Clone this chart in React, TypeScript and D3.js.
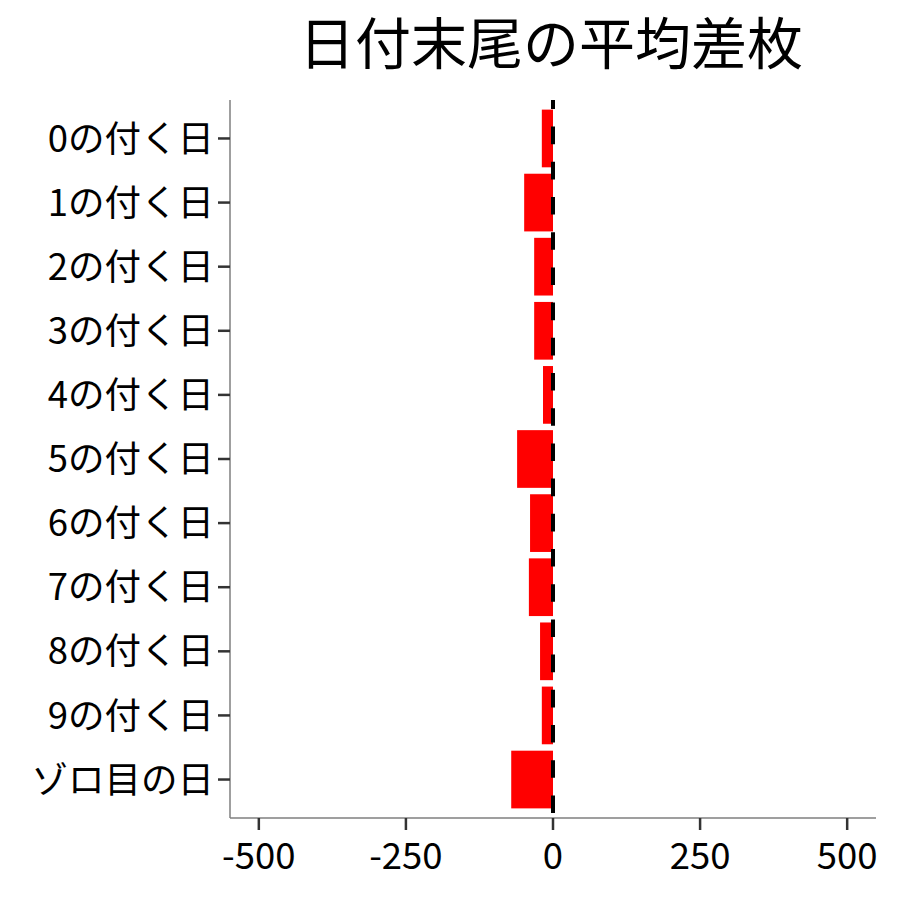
import * as d3 from 'd3';

const categories = [
    '0の付く日', '1の付く日', '2の付く日', '3の付く日', '4の付く日',
    '5の付く日', '6の付く日', '7の付く日', '8の付く日', '9の付く日', 'ゾロ目の日',
];
const avgDiff = [-19, -49, -32, -32, -17, -61, -39, -41, -22, -19, -71];
const xTicks = [-500, -250, 0, 250, 500];
const title = '日付末尾の平均差枚';

const font = '"Noto Sans CJK JP", "Noto Sans", sans-serif';

export default function App() {
    const width = 900;
    const height = 900;
    const panel = { left: 230, right: 876, top: 100, bottom: 818 };

    const x = d3.scaleLinear().domain([-549, 549]).range([panel.left, panel.right]);
    const y = d3.scaleBand<string>()
        .domain(categories)
        .range([panel.top, panel.bottom])
        .paddingInner(0.1)
        .paddingOuter(0.15);

    const rows = categories.map((c, i) => ({ label: c, value: avgDiff[i] }));

    return (
        <svg width={width} height={height} style={{ position: 'absolute', left: 0, top: 0, background: '#fff' }}
            fontFamily={font}>
            <text x={551} y={64} textAnchor="middle" fontSize={56} fill="#000">
                {title}
            </text>

            {rows.map(d => (
                <rect key={d.label}
                    x={x(Math.min(0, d.value))}
                    y={y(d.label)!}
                    width={Math.abs(x(d.value) - x(0))}
                    height={y.bandwidth()}
                    fill="#ff0000" />
            ))}

            <line x1={x(0)} x2={x(0)} y1={panel.top} y2={panel.bottom}
                stroke="#000" strokeWidth={4} strokeDasharray="17.6 17.6" strokeDashoffset={8.6} />

            {/* axes */}
            <line x1={panel.left} x2={panel.left} y1={panel.top} y2={panel.bottom} stroke="#7f7f7f" strokeWidth={1.5} />
            <line x1={panel.left} x2={panel.right} y1={panel.bottom} y2={panel.bottom} stroke="#7f7f7f" strokeWidth={1.5} />

            {categories.map(c => {
                const cy = y(c)! + y.bandwidth() / 2;
                return (
                    <g key={c}>
                        <line x1={panel.left - 12} x2={panel.left} y1={cy} y2={cy} stroke="#333" strokeWidth={2.5} />
                        <text x={panel.left - 16} y={cy} dy="0.36em" textAnchor="end" fontSize={36.5} fill="#000">{c}</text>
                    </g>
                );
            })}

            {xTicks.map(t => (
                <g key={t}>
                    <line x1={x(t)} x2={x(t)} y1={panel.bottom} y2={panel.bottom + 12} stroke="#333" strokeWidth={2.5} />
                    <text x={x(t)} y={869} textAnchor="middle" fontSize={36.5} fill="#000">{t}</text>
                </g>
            ))}
        </svg>
    );
}
